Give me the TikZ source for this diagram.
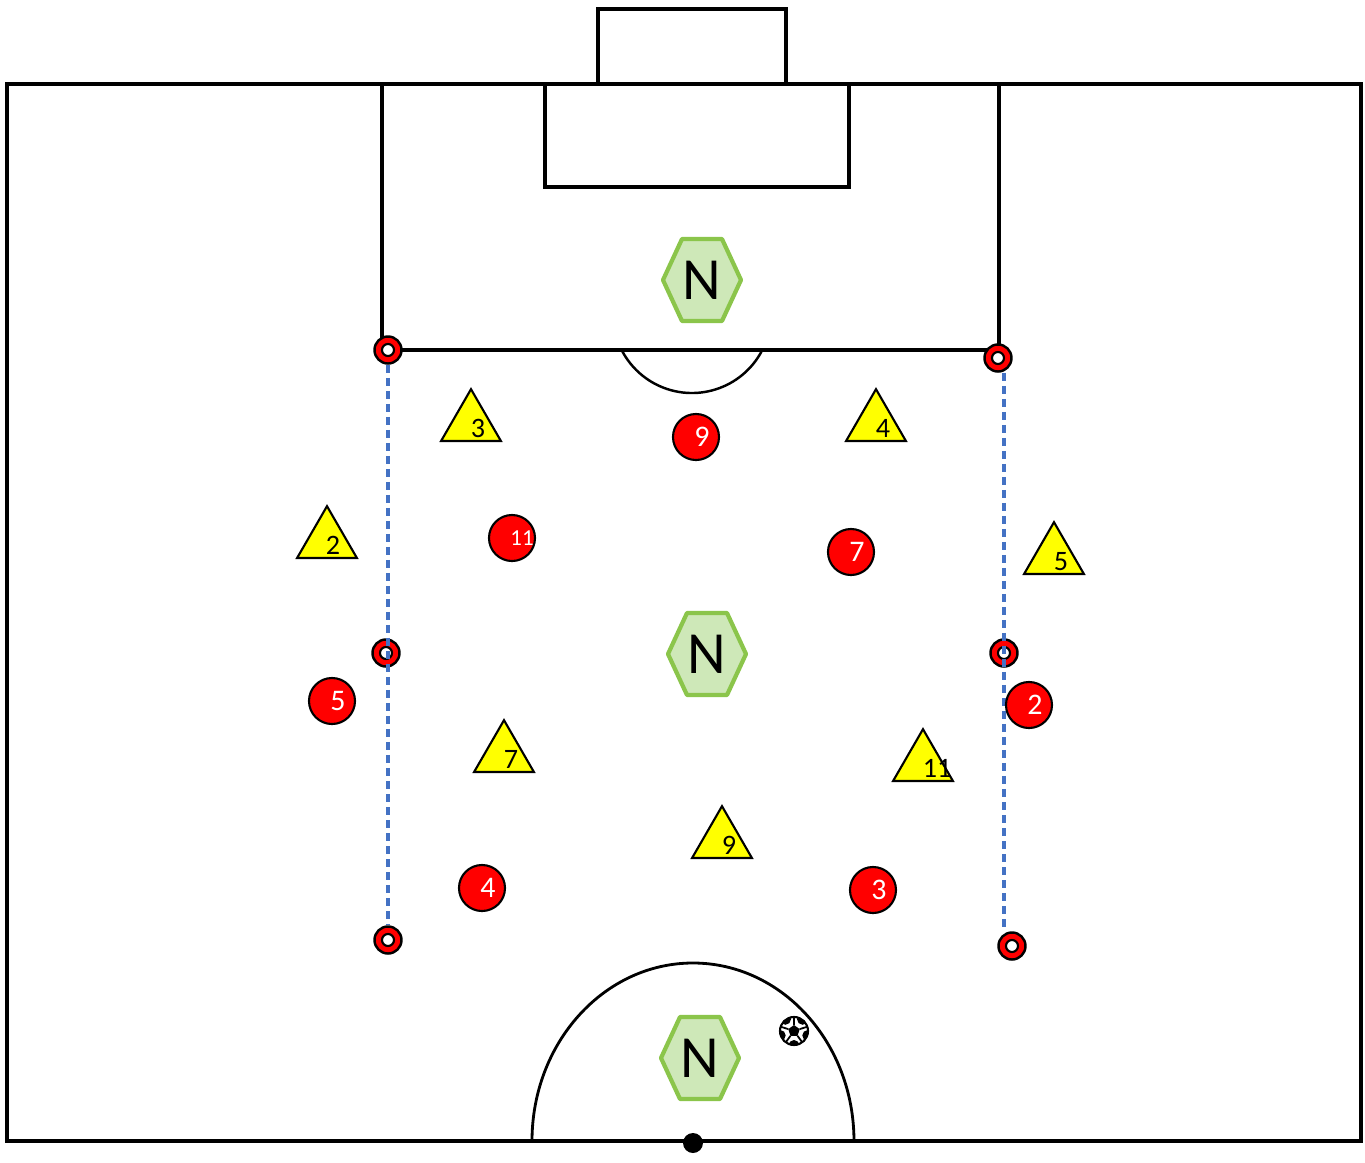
\documentclass[tikz,border=0pt]{standalone}
\usepackage{fontspec}
\setmainfont{Carlito}
\usepackage{tikz}
\usetikzlibrary{positioning, shapes.geometric}
\usepackage{xcolor}
\definecolor{neutralLine}{RGB}{139, 197, 75}
\definecolor{neutralFill}{RGB}{206, 232, 184}
\definecolor{laneBlue}{RGB}{68, 114, 196}
\definecolor{oppYellow}{RGB}{255, 255, 0}

\begin{document}
\begin{tikzpicture}[x=0.01cm, y=-0.01cm, font=\small,
  pitch/.style={line width=0.9pt},
  player/.style={circle, draw=black, fill=red, line width=0.6pt, minimum size=0.46cm, inner sep=0},
  pnum/.style={text=white, font=\fontsize{8.5}{10}\selectfont, inner sep=0},
  opp/.style={regular polygon, regular polygon sides=3, draw=black, fill=oppYellow, line width=0.6pt, minimum size=0.69cm, inner sep=0},
  onum/.style={text=black, font=\fontsize{8}{10}\selectfont, inner sep=0},
  neutral/.style={font=\fontsize{17}{20}\selectfont, inner sep=0},
  hexline/.style={draw=neutralLine, fill=neutralFill, line width=1.2pt, line join=round},
  cone/.style={circle, draw=black, fill=red, line width=0.7pt, minimum size=0.27cm, inner sep=0,
    path picture={\draw[fill=white, line width=0.6pt] (path picture bounding box.center) circle (0.06cm);}},
  lane/.style={laneBlue, line width=0.9pt, dash pattern=on 0.08cm off 0.05cm}]
  \useasboundingbox (0,0) rectangle (1365,1163);

  % Half pitch
  \draw[pitch] (7,84) rectangle (1361,1141);
  \draw[pitch] (598,84) -- (598,9) -- (786,9) -- (786,84);
  \draw[pitch] (545,84) -- (545,187) -- (849,187) -- (849,84);
  \draw[pitch] (382,84) -- (382,350) -- (999,350) -- (999,84);
  \draw[line width=0.7pt] (762.3,350) arc[start angle=27.1, end angle=152.9, radius=79];
  \draw[line width=0.8pt] (854,1141) arc[start angle=0, end angle=-180, x radius=161, y radius=178];
  \fill (693,1143) circle (10);

  % Neutral players
  \foreach \x/\y [count=\i] in {702/280, 707/654, 700/1058} {
    \coordinate (n\i) at (\x,\y);
    \draw[hexline] ([shift={(-39,0)}]n\i) -- ++(19,-41) -- ++(40,0) -- ++(19,41)
      -- ++(-19,41) -- ++(-40,0) -- cycle;
    \node[neutral] (nt\i) at (n\i) {N};
  }

  % Cones and channel lines
  \node[cone] (cL1) at (388,350) {};
  \node[cone] (cL2) at (386,653) {};
  \node[cone] (cL3) at (388,940) {};
  \node[cone] (cR1) at (998,358) {};
  \node[cone] (cR2) at (1004,653) {};
  \node[cone] (cR3) at (1012,946) {};
  \draw[lane] (cL1.south) -- (cL3.north);
  \draw[lane] (cR1.south -| cR2) -- (cR3.north -| cR2);

  % Red team
  \foreach \x/\y/\n in {696/437/9, 851/552/7, 332/701/5, 1029/705/2, 482/888/4, 873/890/3} {
    \node[player, label={[pnum, xshift=0.06cm]center:\n}] (r\n) at (\x,\y) {};
  }
  \node[player, label={[pnum, font=\fontsize{6.5}{8}\selectfont, xshift=0.1cm]center:11}] (r11) at (512,538) {};

  % Yellow team
  \foreach \x/\y/\n/\dx in {471/423.7/3/0.07, 876/423.7/4/0.07, 327/540.7/2/0.06, 1054/556.7/5/0.07,
      504/754.7/7/0.07, 923/763.7/11/0.14, 722/840.7/9/0.07} {
    \node[opp, label={[onum, xshift=\dx cm, yshift=-0.05cm]center:\n}] (y\n) at (\x,\y) {};
  }

  % Ball
  \node[circle, draw=black, fill=white, line width=0.6pt, minimum size=0.28cm, inner sep=0,
    path picture={
      \fill[black, shift={(path picture bounding box.center)}] (90:0.06cm) -- (162:0.06cm) -- (234:0.06cm)
        -- (306:0.06cm) -- (18:0.06cm) -- cycle;
      \foreach \a in {18, 90, 162, 234, 306}
        \draw[black, line width=0.5pt, shift={(path picture bounding box.center)}] (\a:0.06cm) -- (\a:0.14cm);
      \foreach \a in {54, 126, 198, 270, 342}
        \fill[black, shift={(path picture bounding box.center)}] (\a:0.145cm) circle (0.055cm);
    }] (ball) at (794,1031) {};
\end{tikzpicture}
\end{document}
